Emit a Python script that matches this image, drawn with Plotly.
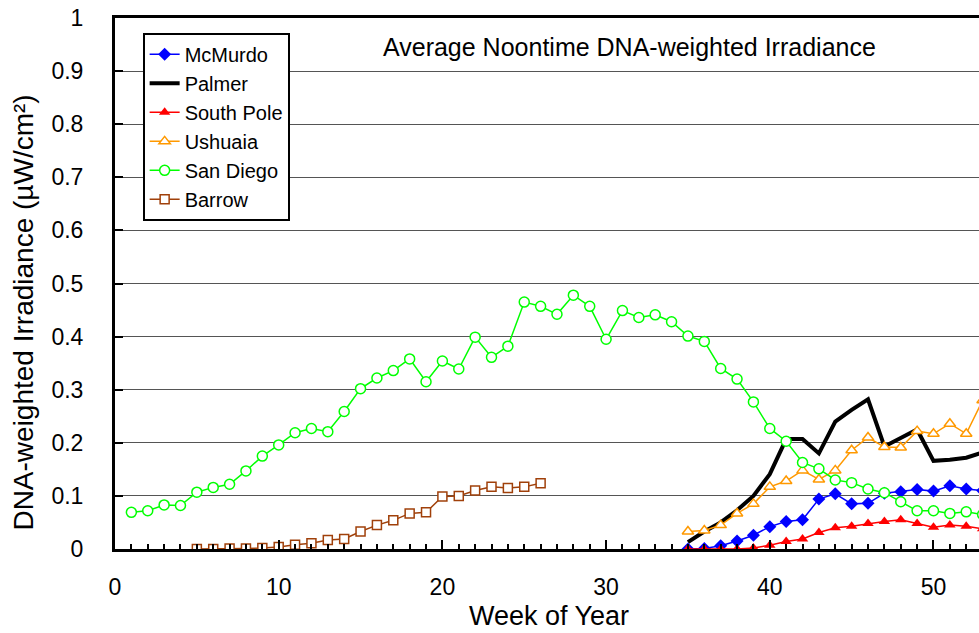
import plotly.graph_objects as go

FONT = "Liberation Sans, Arial, sans-serif"

weeks_sd = list(range(1, 54))
san_diego = [0.069, 0.072, 0.083, 0.082, 0.107, 0.116, 0.122, 0.147, 0.175, 0.196,
             0.219, 0.227, 0.221, 0.259, 0.302, 0.322, 0.336, 0.358, 0.315, 0.354,
             0.339, 0.399, 0.361, 0.382, 0.465, 0.457, 0.442, 0.478, 0.457, 0.395,
             0.449, 0.436, 0.441, 0.428, 0.401, 0.391, 0.340, 0.320, 0.277, 0.227,
             0.203, 0.163, 0.151, 0.130, 0.125, 0.113, 0.106, 0.089, 0.072, 0.072,
             0.067, 0.070, 0.065]

weeks_barrow = list(range(5, 27))
barrow = [0.000, 0.000, 0.001, 0.001, 0.002, 0.004, 0.008, 0.011, 0.017, 0.019,
          0.033, 0.045, 0.054, 0.067, 0.069, 0.099, 0.100, 0.110, 0.117, 0.115,
          0.117, 0.124]

weeks_south = list(range(35, 54))
palmer = [0.013, 0.033, 0.050, 0.073, 0.100, 0.141, 0.207, 0.207, 0.180, 0.240,
          0.262, 0.282, 0.193, 0.208, 0.225, 0.166, 0.168, 0.172, 0.182]
ushuaia = [0.033, 0.035, 0.045, 0.067, 0.085, 0.117, 0.128, 0.148, 0.131, 0.148,
           0.186, 0.210, 0.192, 0.191, 0.222, 0.217, 0.236, 0.217, 0.280]
mcmurdo = [0.000, 0.001, 0.006, 0.015, 0.026, 0.042, 0.052, 0.055, 0.094, 0.104,
           0.085, 0.086, 0.105, 0.108, 0.112, 0.109, 0.119, 0.113, 0.110]
south_pole = [0.000, 0.000, 0.000, 0.000, 0.002, 0.007, 0.014, 0.019, 0.031, 0.040,
              0.043, 0.048, 0.052, 0.055, 0.048, 0.041, 0.045, 0.043, 0.038]

fig = go.Figure()

fig.add_trace(go.Scatter(x=weeks_south, y=mcmurdo, name="McMurdo", mode="lines+markers",
                         line=dict(color="#0000FF", width=1.5),
                         marker=dict(symbol="diamond", size=10, color="#0000FF")))
fig.add_trace(go.Scatter(x=weeks_south, y=palmer, name="Palmer", mode="lines",
                         line=dict(color="#000000", width=4)))
fig.add_trace(go.Scatter(x=weeks_south, y=south_pole, name="South Pole", mode="lines+markers",
                         line=dict(color="#FF0000", width=1.5),
                         marker=dict(symbol="triangle-up", size=10, color="#FF0000")))
fig.add_trace(go.Scatter(x=weeks_south, y=ushuaia, name="Ushuaia", mode="lines+markers",
                         line=dict(color="#FF9900", width=1.5),
                         marker=dict(symbol="triangle-up", size=10, color="white",
                                     line=dict(color="#FF9900", width=1.5))))
fig.add_trace(go.Scatter(x=weeks_sd, y=san_diego, name="San Diego", mode="lines+markers",
                         line=dict(color="#00FF00", width=1.5),
                         marker=dict(symbol="circle", size=10, color="white",
                                     line=dict(color="#00FF00", width=1.5))))
fig.add_trace(go.Scatter(x=weeks_barrow, y=barrow, name="Barrow", mode="lines+markers",
                         line=dict(color="#A0400A", width=1.5),
                         marker=dict(symbol="square", size=9, color="white",
                                     line=dict(color="#A0400A", width=1.5))))

fig.update_layout(
    width=979, height=633,
    margin=dict(l=115, r=0, t=18, b=84),
    paper_bgcolor="white", plot_bgcolor="white",
    font=dict(family=FONT, color="black"),
    showlegend=True,
    legend=dict(x=0.032, y=0.972, xanchor="left", yanchor="top",
                bgcolor="white", bordercolor="black", borderwidth=2,
                font=dict(size=20, family=FONT), tracegroupgap=0,
                itemwidth=30),
    xaxis=dict(range=[0, 52.78], dtick=10, tick0=0, showgrid=False, zeroline=False,
               showline=True, linecolor="black", linewidth=3, mirror=True,
               ticks="inside", ticklen=9, tickwidth=2, tickcolor="black",
               tickfont=dict(size=23, family=FONT), ticklabelstandoff=15,
               minor=dict(dtick=1, ticks="inside", ticklen=5, tickwidth=2,
                          tickcolor="black", showgrid=False)),
    yaxis=dict(range=[0, 1], dtick=0.1, tick0=0, showgrid=True, gridcolor="#555555",
               gridwidth=1, zeroline=False, showline=True, linecolor="black",
               linewidth=3, ticks="inside", ticklen=8, tickwidth=2, tickcolor="black",
               tickfont=dict(size=23, family=FONT), ticklabelstandoff=24),
    annotations=[
        dict(text="Average Noontime DNA-weighted Irradiance", x=0.595, y=0.945,
             xref="paper", yref="paper", showarrow=False, xanchor="center",
             yanchor="middle", font=dict(size=25, family=FONT)),
        dict(text="Week of Year", x=0.502, y=-0.158, xref="paper", yref="paper",
             showarrow=False, xanchor="center", yanchor="bottom",
             font=dict(size=27, family=FONT)),
        dict(text="DNA-weighted Irradiance (µW/cm²)", x=-0.106, y=0.446,
             xref="paper", yref="paper", showarrow=False, xanchor="center",
             yanchor="middle", textangle=-90, font=dict(size=28, family=FONT)),
    ],
)

fig.write_html("out.html")
